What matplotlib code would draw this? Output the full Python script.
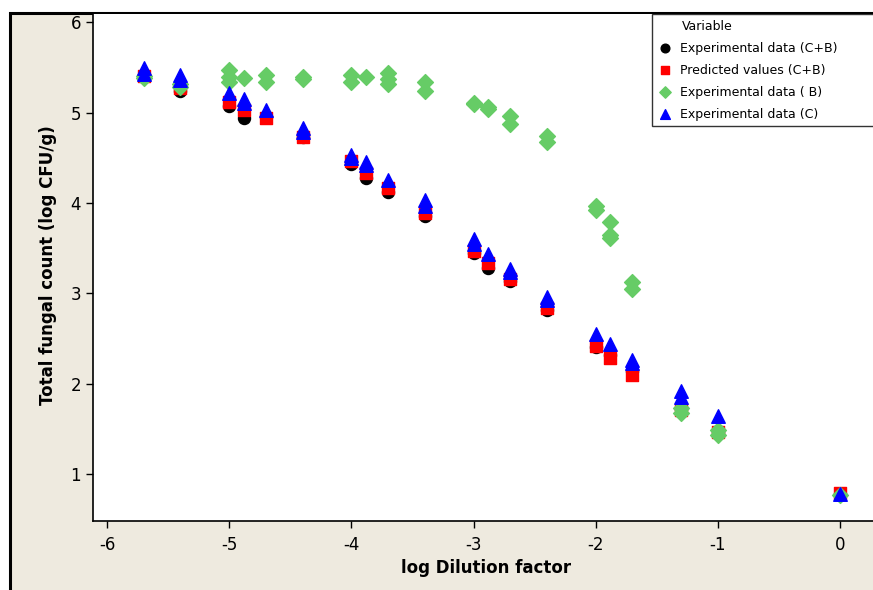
import matplotlib
matplotlib.use("Agg")
import matplotlib.pyplot as plt
from matplotlib.patches import Rectangle

# log dilution factor and measured / predicted counts (log CFU/g)
x_cb = [-5.7, -5.4, -5.0, -4.88, -4.7, -4.4, -4.0, -3.88, -3.7, -3.4,
        -3.0, -2.88, -2.7, -2.4, -2.0, -1.88, -1.7, -1.3, -1.0, 0.0]
exp_cb = [5.40, 5.24, 5.07, 4.94, 4.95, 4.73, 4.43, 4.28, 4.12, 3.86,
          3.44, 3.28, 3.14, 2.81, 2.40, 2.32, 2.14, 1.72, 1.46, 0.78]
pred_cb = [5.40, 5.27, 5.12, 5.03, 4.94, 4.73, 4.46, 4.33, 4.16, 3.89,
           3.47, 3.33, 3.16, 2.84, 2.42, 2.28, 2.09, 1.71, 1.46, 0.79]

x_b = [-5.7, -5.7, -5.4, -5.4, -5.0, -5.0, -5.0, -4.88, -4.7, -4.7,
       -4.4, -4.4, -4.0, -4.0, -3.88, -3.7, -3.7, -3.7, -3.4, -3.4,
       -3.0, -3.0, -2.88, -2.88, -2.7, -2.7, -2.4, -2.4, -2.0, -2.0,
       -1.88, -1.88, -1.88, -1.7, -1.7, -1.3, -1.3, -1.0, -1.0, 0.0]
exp_b = [5.40, 5.38, 5.32, 5.28, 5.47, 5.39, 5.34, 5.38, 5.42, 5.34,
         5.39, 5.37, 5.42, 5.34, 5.39, 5.44, 5.37, 5.31, 5.34, 5.24,
         5.11, 5.09, 5.06, 5.04, 4.96, 4.87, 4.74, 4.67, 3.97, 3.92,
         3.79, 3.64, 3.61, 3.12, 3.05, 1.73, 1.68, 1.49, 1.43, 0.77]

x_c = [-5.7, -5.7, -5.4, -5.4, -5.0, -4.88, -4.88, -4.7, -4.4, -4.4,
       -4.0, -4.0, -3.88, -3.88, -3.7, -3.4, -3.4, -3.0, -3.0, -2.88,
       -2.7, -2.7, -2.4, -2.4, -2.0, -1.88, -1.7, -1.7, -1.3, -1.3,
       -1.0, 0.0]
exp_c = [5.49, 5.43, 5.41, 5.36, 5.22, 5.15, 5.10, 5.03, 4.83, 4.78,
         4.53, 4.50, 4.45, 4.42, 4.25, 4.03, 3.96, 3.60, 3.54, 3.43,
         3.27, 3.24, 2.96, 2.92, 2.55, 2.44, 2.26, 2.23, 1.92, 1.85,
         1.64, 0.78]

xticks = [-6, -5, -4, -3, -2, -1, 0]
yticks = [1, 2, 3, 4, 5, 6]

BEIGE = "#EEEADF"
GREEN = "#66CC66"

fig = plt.figure(figsize=(8.73, 5.9), dpi=100, facecolor="white")

# outer graph frame (beige region with black border)
frame = Rectangle((10 / 873, -0.05), 1.1, (590 - 13) / 590 + 0.05,
                  transform=fig.transFigure, facecolor=BEIGE,
                  edgecolor="black", linewidth=2.2, zorder=-10)
fig.patches.append(frame)

ax = fig.add_axes([93 / 873, 69 / 590, 1 - 93 / 873, (521 - 14) / 590])
ax.set_zorder(5)
ax.set_facecolor("white")

ax.scatter(x_cb, exp_cb, marker="o", s=75, color="black",
           label="Experimental data (C+B)", zorder=3)
ax.scatter(x_cb, pred_cb, marker="s", s=70, color="red",
           label="Predicted values (C+B)", zorder=4)
ax.scatter(x_b, exp_b, marker="D", s=65, color=GREEN,
           label="Experimental data ( B)", zorder=5)
ax.scatter(x_c, exp_c, marker="^", s=95, color="blue",
           label="Experimental data (C)", zorder=6)

ax.set_xlim(-6.115, 0.27)
ax.set_ylim(0.48, 6.09)
ax.set_xticks(xticks)
ax.set_yticks(yticks)
ax.set_xticklabels([str(t) for t in xticks])
ax.tick_params(direction="out", length=5, width=1, labelsize=12,
               colors="black")
ax.tick_params(axis="x", pad=6)

for side in ["top", "right"]:
    ax.spines[side].set_visible(False)
for side in ["left", "bottom"]:
    ax.spines[side].set_linewidth(1.2)

fig.text(486 / 873, 1 - 568 / 590, "log Dilution factor", ha="center",
         va="center", fontsize=12, fontweight="bold")
fig.text(48 / 873, 1 - 265 / 590, "Total fungal count (log CFU/g)",
         ha="center", va="center", rotation=90, fontsize=12,
         fontweight="bold")

# legend box runs off the right edge like in the cropped original
leg = ax.legend(title="Variable", loc="upper left",
                bbox_to_anchor=(652 / 873, 1 - 14 / 590, 0.3, 0),
                bbox_transform=fig.transFigure, mode="expand", fontsize=9,
                title_fontsize=9, frameon=True, fancybox=False,
                borderpad=0.45, labelspacing=0.72, handletextpad=0.55,
                handlelength=1.2, markerscale=0.72, borderaxespad=0)
leg.get_frame().set_edgecolor("black")
leg.get_frame().set_linewidth(1.0)
leg._legend_box.align = "left"
leg.get_title().set_position((24, 0))

fig.savefig("out.png", dpi=100, facecolor=fig.get_facecolor())
